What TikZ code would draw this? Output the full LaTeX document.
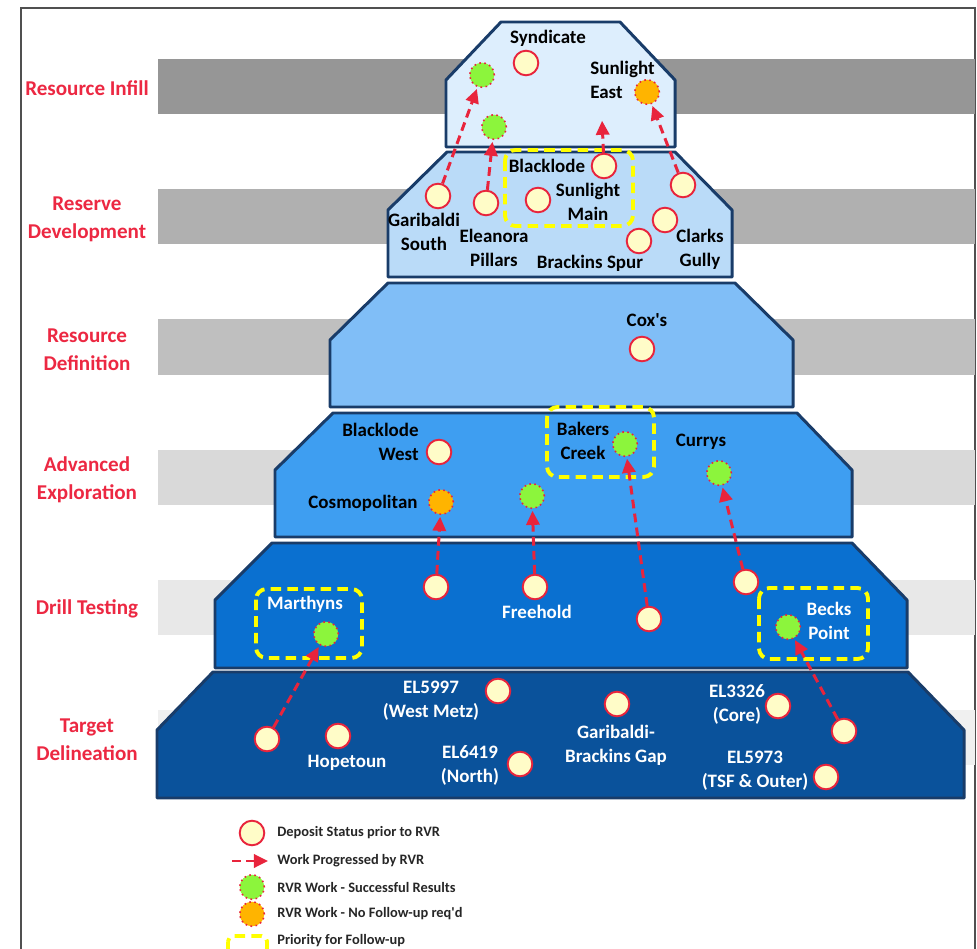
\documentclass[tikz,border=0pt]{standalone}
\usepackage{fontspec}
\setmainfont{Carlito}
\usepackage{xcolor}
\usepackage{tikz}
\usetikzlibrary{arrows.meta}

\definecolor{stagered}{RGB}{236,40,66}
\definecolor{depred}{RGB}{232,36,60}
\definecolor{cream}{RGB}{255,252,200}
\definecolor{okgreen}{RGB}{140,245,60}
\definecolor{nfgold}{RGB}{255,180,0}
\definecolor{prioyellow}{RGB}{255,255,0}
\definecolor{tierline}{RGB}{25,60,105}
\definecolor{tierA}{RGB}{221,238,253}
\definecolor{tierB}{RGB}{186,219,248}
\definecolor{tierC}{RGB}{128,190,247}
\definecolor{tierD}{RGB}{62,158,241}
\definecolor{tierE}{RGB}{10,112,208}
\definecolor{tierF}{RGB}{10,82,155}
\definecolor{frameline}{RGB}{80,80,80}

\begin{document}
\begin{tikzpicture}[x=0.02cm,y=-0.02cm,
    tier/.style={draw=tierline,line width=1.7pt,line join=round},
    stage/.style={text=stagered,font=\bfseries\fontsize{12}{16}\selectfont,align=center},
    lbl/.style={font=\bfseries\fontsize{10.8}{13.7}\selectfont,align=center,inner sep=0pt},
    wlbl/.style={lbl,text=white},
    keytext/.style={font=\bfseries\fontsize{8.2}{10}\selectfont,anchor=west,inner sep=0pt,text=black!85},
    dep/.style={circle,draw=depred,fill=cream,line width=1.1pt,minimum size=14pt,inner sep=0pt},
    good/.style={circle,draw=depred,fill=okgreen,dotted,line width=0.9pt,minimum size=14pt,inner sep=0pt},
    done/.style={good,fill=nfgold},
    prog/.style={draw=depred,line width=1.7pt,dash pattern=on 5pt off 3pt,shorten >=1pt,
                 -{Triangle[length=8pt,width=7.5pt]}},
    prio/.style={draw=prioyellow,line width=2.2pt,dash pattern=on 6pt off 3.5pt,rounded corners=6pt}]
    \useasboundingbox (0,0) rectangle (977,949);

    % Frame
    \draw[frameline,line width=1.1pt] (21,949) -- (21,8) -- (975,8) -- (975,949);

    % Grey bands behind the pyramid
    \fill[black!41] (158,59) rectangle (975,114);
    \fill[black!31] (158,189) rectangle (975,244);
    \fill[black!25] (158,319) rectangle (975,375);
    \fill[black!15] (158,450) rectangle (975,505);
    \fill[black!9]  (158,580) rectangle (975,635);
    \fill[black!6]  (158,710) rectangle (975,765);

    % Stage names
    \node[stage] (s-infill) at (87,88) {Resource Infill};
    \node[stage] (s-reserve) at (87,219) {Reserve\\Development};
    \node[stage] (s-resdef) at (87,350) {Resource\\Definition};
    \node[stage] (s-adv) at (87,480) {Advanced\\Exploration};
    \node[stage] (s-drill) at (87,609) {Drill Testing};
    \node[stage] (s-target) at (87,740) {Target\\Delineation};

    % Pyramid tiers
    \draw[tier,fill=tierF] (157,798) -- (157,730) -- (213,672) -- (908,672) -- (964,730) -- (964,798) -- cycle;
    \draw[tier,fill=tierE] (215,668) -- (215,600) -- (272,543) -- (852,543) -- (907,600) -- (907,668) -- cycle;
    \draw[tier,fill=tierD] (275,537) -- (275,470) -- (333,413) -- (797,413) -- (852,470) -- (852,537) -- cycle;
    \draw[tier,fill=tierC] (330,407) -- (330,340) -- (388,283) -- (735,283) -- (793,340) -- (793,407) -- cycle;
    \draw[tier,fill=tierB] (388,277) -- (388,210) -- (447,152) -- (675,152) -- (732,210) -- (732,277) -- cycle;
    \draw[tier,fill=tierA] (446,147) -- (446,80) -- (501,22) -- (620,22) -- (675,80) -- (675,147) -- cycle;

    % Priority boxes
    \draw[prio] (505,150) rectangle (633,226);
    \draw[prio] (547,407) rectangle (654,477);
    \draw[prio] (256,589) rectangle (362,658);
    \draw[prio] (759,588) rectangle (868,659);

    % Resource Infill
    \node[lbl] (syn-l) at (548,38) {Syndicate};
    \node[dep] (syn) at (526,63) {};
    \node[good] (ri1) at (482,75) {};
    \node[good] (ri2) at (494,127) {};
    \node[lbl,align=left,anchor=west] (sle-l) at (590,80) {Sunlight\\East};
    \node[done] (sle) at (647,92) {};

    % Reserve Development
    \node[dep] (gsth) at (438,196) {};
    \node[lbl] (gsth-l) at (424,232) {Garibaldi\\South};
    \node[dep] (elp) at (486,203) {};
    \node[lbl] (elp-l) at (494,248) {Eleanora\\Pillars};
    \node[lbl] (blk-l) at (547,166) {Blacklode};
    \node[dep] (blk) at (604,166) {};
    \node[dep] (slm) at (538,200) {};
    \node[lbl] (slm-l) at (588,202) {Sunlight\\Main};
    \node[dep] (clk1) at (683,185) {};
    \node[dep] (clk2) at (665,220) {};
    \node[lbl] (clk-l) at (700,249) {Clarks\\Gully};
    \node[dep] (brs) at (639,241) {};
    \node[lbl] (brs-l) at (590,263) {Brackins Spur};
    \coordinate (blkup) at (602,119);

    % Resource Definition
    \node[lbl] (cox-l) at (647,320) {Cox\textquotesingle s};
    \node[dep] (cox) at (642,349) {};

    % Advanced Exploration
    \node[lbl,align=right,anchor=east] (blw-l) at (419,442) {Blacklode\\West};
    \node[dep] (blw) at (439,452) {};
    \node[lbl] (cosm-l) at (363,503) {Cosmopolitan};
    \node[done] (cosm) at (441,502) {};
    \node[good] (ae1) at (532,496) {};
    \node[lbl] (bkc-l) at (583,441) {Bakers\\Creek};
    \node[good] (bkc) at (625,444) {};
    \node[lbl] (cur-l) at (701,442) {Currys};
    \node[good] (cur) at (719,473) {};

    % Drill Testing
    \node[wlbl] (mar-l) at (305,604) {Marthyns};
    \node[good] (mar) at (326,634) {};
    \node[dep] (dt1) at (436,587) {};
    \node[dep] (fh) at (535,587) {};
    \node[wlbl] (fh-l) at (537,612) {Freehold};
    \node[dep] (dt3) at (649,619) {};
    \node[dep] (dt4) at (746,582) {};
    \node[good] (bkp) at (788,627) {};
    \node[wlbl] (bkp-l) at (829,621) {Becks\\Point};

    % Target Delineation
    \node[dep] (td1) at (267,739) {};
    \node[dep] (hop) at (338,736) {};
    \node[wlbl] (hop-l) at (347,763) {Hopetoun};
    \node[wlbl] (el97-l) at (431,701) {EL5997\\(West Metz)};
    \node[dep] (el97) at (498,691) {};
    \node[wlbl] (el19-l) at (470,765) {EL6419\\(North)};
    \node[dep] (el19) at (520,764) {};
    \node[dep] (gbg) at (617,704) {};
    \node[wlbl] (gbg-l) at (616,745) {Garibaldi-\\Brackins Gap};
    \node[wlbl] (el26-l) at (737,704) {EL3326\\(Core)};
    \node[dep] (el26) at (778,706) {};
    \node[dep] (td2) at (844,731) {};
    \node[wlbl] (el73-l) at (755,771) {EL5973\\(TSF \& Outer)};
    \node[dep] (el73) at (826,777) {};

    % Work progressed
    \draw[prog] (gsth) -- (ri1);
    \draw[prog] (elp) -- (ri2);
    \draw[prog] (blk) -- (blkup);
    \draw[prog] (clk1) -- (sle);
    \draw[prog] (dt1) -- (cosm);
    \draw[prog] (fh) -- (ae1);
    \draw[prog] (dt3) -- (bkc);
    \draw[prog] (dt4) -- (cur);
    \draw[prog] (td1) -- (mar);
    \draw[prog] (td2) -- (bkp);

    % Legend
    \node[dep] (k-dep) at (252,833) {};
    \node[keytext] (k-dep-t) at (277,833) {Deposit Status prior to RVR};
    \coordinate (k-a) at (232,861);
    \coordinate (k-b) at (268,861);
    \draw[prog,shorten >=0pt] (k-a) -- (k-b);
    \node[keytext] (k-prog-t) at (277,861) {Work Progressed by RVR};
    \node[good] (k-good) at (252,887) {};
    \node[keytext] (k-good-t) at (277,887) {RVR Work - Successful Results};
    \node[done] (k-done) at (252,914) {};
    \node[keytext] (k-done-t) at (277,914) {RVR Work - No Follow-up req\textquotesingle d};
    \draw[prio,rounded corners=3pt] (228,936) rectangle (267,962);
    \node[keytext] (k-prio-t) at (277,941) {Priority for Follow-up};
\end{tikzpicture}
\end{document}
